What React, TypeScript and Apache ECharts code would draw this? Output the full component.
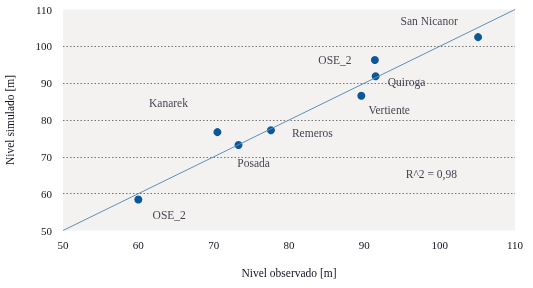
import React, { useEffect, useRef } from "react";
import * as echarts from "echarts";

const observed = [60, 70.5, 73.3, 77.6, 89.6, 91.4, 91.5, 105.1];
const simulated = [58.4, 76.7, 73.2, 77.2, 86.6, 96.3, 91.9, 102.5];
const labelNames = ["San Nicanor", "OSE_2", "Quiroga", "Vertiente", "Kanarek", "Remeros", "Posada", "OSE_2", "R^2 = 0,98"];
const labelX = [98.6, 86.1, 95.6, 93.3, 64.0, 83.1, 75.3, 64.1, 98.9];
const labelY = [107.0, 96.3, 90.4, 82.7, 84.5, 76.4, 68.2, 54.1, 65.3];
const fitLine = [[50, 50], [110, 110]];
const axisMin = 50;
const axisMax = 110;
const axisStep = 10;

const FONT = "'Liberation Serif', serif";
const TXT = "#141222";

export default function App() {
  const ref = useRef<HTMLDivElement>(null);
  useEffect(() => {
    if (!ref.current) return;
    const chart = echarts.init(ref.current, undefined, { renderer: "svg" });
    const axisCommon = {
      type: "value",
      min: axisMin,
      max: axisMax,
      interval: axisStep,
      axisLine: { show: false },
      axisTick: { show: false },
      nameLocation: "middle",
      nameTextStyle: { fontFamily: FONT, fontSize: 11.5, color: TXT },
      axisLabel: { fontFamily: FONT, fontSize: 11, color: TXT },
    };
    chart.setOption({
      animation: false,
      grid: {
        left: 63,
        right: 18,
        top: 9.5,
        bottom: 57.5,
        show: true,
        backgroundColor: "#f3f2f1",
        borderWidth: 0,
        containLabel: false,
        outerBoundsMode: "none",
      },
      xAxis: {
        ...axisCommon,
        name: "Nivel observado [m]",
        nameGap: 36,
        axisLabel: { ...axisCommon.axisLabel, margin: 9 },
        splitLine: { show: false },
      },
      yAxis: {
        ...axisCommon,
        name: "Nivel simulado [m]",
        nameGap: 47,
        axisLabel: { ...axisCommon.axisLabel, margin: 11 },
        splitLine: {
          show: true,
          showMinLine: false,
          showMaxLine: false,
          lineStyle: { type: [1.5, 2], color: "#777", width: 1 },
        },
      },
      series: [
        {
          type: "line",
          data: fitLine,
          symbol: "none",
          lineStyle: { color: "#5f8fb8", width: 1 },
          silent: true,
        },
        {
          type: "scatter",
          data: observed.map((x, i) => [x, simulated[i]]),
          symbolSize: 8,
          itemStyle: { color: "#0b5797", opacity: 1 },
        },
        {
          type: "scatter",
          data: labelX.map((x, i) => ({ value: [x, labelY[i]], name: labelNames[i] })),
          symbolSize: 0,
          label: {
            show: true,
            position: "inside",
            formatter: (p: any) => p.name,
            fontFamily: FONT,
            fontSize: 11.5,
            color: TXT,
          },
        },
      ],
    });
    return () => chart.dispose();
  }, []);
  return (
    <div
      ref={ref}
      style={{ position: "fixed", left: 0, top: 0, width: 533, height: 288 }}
    />
  );
}
